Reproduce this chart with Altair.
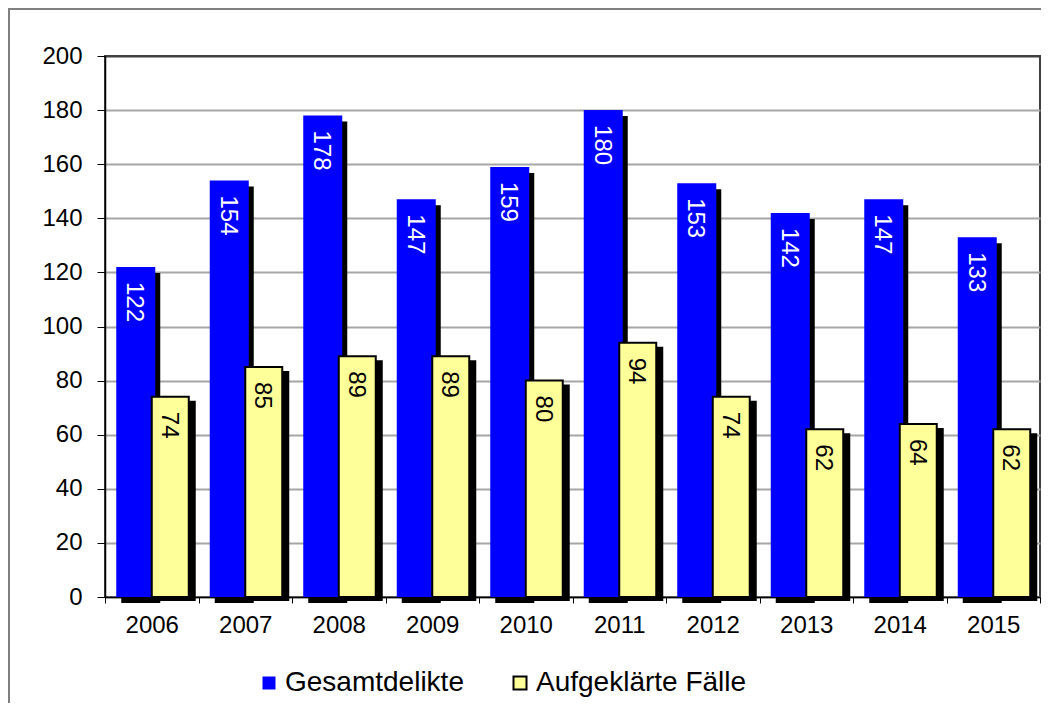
import altair as alt
import pandas as pd

# ---- data ----
years = ["2006", "2007", "2008", "2009", "2010", "2011", "2012", "2013", "2014", "2015"]
gesamtdelikte = [122, 154, 178, 147, 159, 180, 153, 142, 147, 133]
aufgeklaerte = [74, 85, 89, 89, 80, 94, 74, 62, 64, 62]
series_names = ["Gesamtdelikte", "Aufgeklärte Fälle"]
series_fill = ["#0000FF", "#FFFF99"]
series_stroke = ["transparent", "#000000"]
y_ticks = [0, 20, 40, 60, 80, 100, 120, 140, 160, 180, 200]

df = pd.DataFrame({
    "year": years + years,
    "series": [series_names[0]] * len(years) + [series_names[1]] * len(years),
    "value": gesamtdelikte + aufgeklaerte,
})

FONT = "Liberation Sans"
W, H = 935, 541

x_enc = alt.X(
    "year:N", title=None,
    scale=alt.Scale(paddingInner=0, paddingOuter=0),
    axis=alt.Axis(labelFont=FONT, labelFontSize=24, labelColor="black", labelAngle=0,
                  tickBand="extent", tickSize=6, tickColor="black", tickWidth=1,
                  domainColor="black", domainWidth=1.5, labelPadding=10, grid=False),
)
y_enc = alt.Y(
    "value:Q", title=None,
    scale=alt.Scale(domain=[0, 200], nice=False, zero=True),
    axis=alt.Axis(values=y_ticks, labelFont=FONT, labelFontSize=24, labelColor="black",
                  tickSize=8, tickColor="black", tickWidth=1, domainColor="black",
                  domainWidth=1.5, labelPadding=15, grid=True, gridWidth=2,
                  gridColor={"condition": {"test": "datum.value === 200", "value": "#404040"},
                             "value": "#A6A6A6"}),
)

legend = alt.Legend(title=None, orient="none", legendX=150, legendY=613, direction="horizontal",
                    labelFont=FONT, labelFontSize=28, labelColor="black", symbolType="square",
                    symbolSize=169, symbolStrokeWidth=2, labelOffset=2, columnPadding=42,
                    labelLimit=600, padding=0)
color_enc = alt.Color("series:N", scale=alt.Scale(domain=series_names, range=series_fill), legend=legend)
stroke_enc = alt.Stroke("series:N", scale=alt.Scale(domain=series_names, range=series_stroke), legend=legend)

base = alt.Chart(df)
blue = base.transform_filter(alt.datum.series == series_names[0])
yellow = base.transform_filter(alt.datum.series == series_names[1])

blue_shadow = blue.mark_bar(color="black", width=39, xOffset=-11, yOffset=6, y2Offset=2).encode(x=x_enc, y=y_enc)
blue_bar = blue.mark_bar(width=39, xOffset=-16, strokeWidth=0).encode(x=x_enc, y=y_enc, color=color_enc, stroke=stroke_enc)
yellow_shadow = yellow.mark_bar(color="black", width=39, xOffset=24.5, yOffset=4, y2Offset=2).encode(x=x_enc, y=y_enc)
yellow_bar = yellow.mark_bar(width=37, xOffset=18.5, strokeWidth=2).encode(x=x_enc, y=y_enc, color=color_enc, stroke=stroke_enc)

blue_text = blue.mark_text(angle=90, align="left", baseline="middle", font=FONT, fontSize=24,
                           color="white", xOffset=-17.4, yOffset=15).encode(x=x_enc, y=y_enc, text="value:Q")
yellow_text = yellow.mark_text(angle=90, align="left", baseline="middle", font=FONT, fontSize=24,
                               color="black", xOffset=17, yOffset=15).encode(x=x_enc, y=y_enc, text="value:Q")

frame_df = pd.DataFrame({"k": [0]})
frame_left = alt.Chart(frame_df).mark_rule(color="#7F7F7F", strokeWidth=2).encode(
    x=alt.value(-96), y=alt.value(-48), y2=alt.value(H + 106))
frame_top = alt.Chart(frame_df).mark_rule(color="#7F7F7F", strokeWidth=2).encode(
    x=alt.value(-97), x2=alt.value(W + 1), y=alt.value(-47))

chart = alt.layer(
    blue_shadow, blue_bar, yellow_shadow, yellow_bar, blue_text, yellow_text, frame_left, frame_top
).properties(
    width=W, height=H,
    autosize=alt.AutoSizeParams(type="none"),
    padding={"left": 97, "top": 48, "right": 1, "bottom": 106},
    background="white",
).configure_view(stroke="#404040", strokeWidth=2)

chart.save("out.html", embed_options={"renderer": "svg", "actions": False})
